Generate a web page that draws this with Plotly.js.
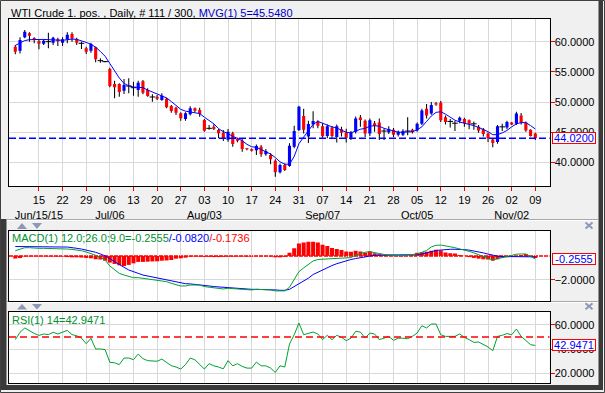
<!DOCTYPE html>
<html><head><meta charset="utf-8">
<script src="https://cdn.plot.ly/plotly-3.0.1.min.js"></script>
<style>html,body{margin:0;padding:0;background:#f0f0f0;overflow:hidden}#chart{width:605px;height:393px}</style>
</head><body><div id="chart"></div>
<script>
const dates = [
"2015-06-08","2015-06-09","2015-06-10","2015-06-11","2015-06-12",
"2015-06-15","2015-06-16","2015-06-17","2015-06-18","2015-06-19",
"2015-06-22","2015-06-23","2015-06-24","2015-06-25","2015-06-26",
"2015-06-29","2015-06-30","2015-07-01","2015-07-02","2015-07-03",
"2015-07-06","2015-07-07","2015-07-08","2015-07-09","2015-07-10",
"2015-07-13","2015-07-14","2015-07-15","2015-07-16","2015-07-17",
"2015-07-20","2015-07-21","2015-07-22","2015-07-23","2015-07-24",
"2015-07-27","2015-07-28","2015-07-29","2015-07-30","2015-07-31",
"2015-08-03","2015-08-04","2015-08-05","2015-08-06","2015-08-07",
"2015-08-10","2015-08-11","2015-08-12","2015-08-13","2015-08-14",
"2015-08-17","2015-08-18","2015-08-19","2015-08-20","2015-08-21",
"2015-08-24","2015-08-25","2015-08-26","2015-08-27","2015-08-28",
"2015-08-31","2015-09-01","2015-09-02","2015-09-03","2015-09-04",
"2015-09-07","2015-09-08","2015-09-09","2015-09-10","2015-09-11",
"2015-09-14","2015-09-15","2015-09-16","2015-09-17","2015-09-18",
"2015-09-21","2015-09-22","2015-09-23","2015-09-24","2015-09-25",
"2015-09-28","2015-09-29","2015-09-30","2015-10-01","2015-10-02",
"2015-10-05","2015-10-06","2015-10-07","2015-10-08","2015-10-09",
"2015-10-12","2015-10-13","2015-10-14","2015-10-15","2015-10-16",
"2015-10-19","2015-10-20","2015-10-21","2015-10-22","2015-10-23",
"2015-10-26","2015-10-27","2015-10-28","2015-10-29","2015-10-30",
"2015-11-02","2015-11-03","2015-11-04","2015-11-05","2015-11-06",
"2015-11-09"];

const open = [
59.19,58.53,60.74,61.40,60.63, 60.08,59.69,60.02,59.86,60.41, 59.86,60.41,61.29,60.41,59.75,
58.92,58.53,59.08,56.87,56.71, 55.49,53.00,53.00,51.90,52.67, 52.39,52.01,53.44,52.01,50.85,
50.90,50.35,50.57,49.35,49.08, 48.14,47.20,48.00,48.97,48.69, 47.03,45.65,45.93,45.37,44.93,
43.77,44.82,43.88,43.60,42.33, 42.17,42.00,42.61,41.34,41.23, 40.29,38.35,39.57,39.40,42.61,
45.37,47.70,44.30,46.30,46.80, 46.00,44.40,45.80,44.20,45.50, 44.90,44.10,45.10,47.45,46.90,
44.80,46.50,46.60,45.20,45.00, 45.40,44.60,44.60,45.20,45.40, 45.30,46.40,48.90,48.10,49.80,
49.90,47.50,46.80,46.50,46.90, 47.20,47.00,46.40,45.90,45.50, 44.80,43.80,43.40,45.90,45.80,
46.60,46.40,47.80,46.60,45.40, 44.80];
const high = [
59.47,60.74,61.96,61.57,60.74, 60.30,60.41,61.51,60.85,60.69, 60.74,61.57,61.57,60.69,60.02,
59.19,59.86,59.19,57.26,56.82, 55.71,53.55,53.11,53.83,53.94, 53.39,53.55,53.66,52.28,51.29,
51.18,51.45,50.74,49.52,49.24, 48.30,48.30,49.30,49.10,49.08, 47.20,46.20,46.31,45.54,45.37,
45.54,45.10,44.10,43.99,42.40, 42.30,42.99,42.88,42.22,41.50, 40.51,39.84,39.84,43.16,46.09,
49.41,48.90,46.90,48.50,47.00, 46.50,46.30,46.00,46.30,45.90, 45.60,45.20,47.60,47.85,47.10,
47.30,46.85,47.30,45.60,46.00, 45.70,45.30,45.50,47.50,45.60, 46.60,48.90,49.70,50.00,50.00,
50.20,47.80,47.20,46.90,47.60, 47.40,47.10,46.80,46.20,45.70, 44.95,44.00,46.20,46.40,46.90,
46.70,48.40,48.20,46.80,45.50, 44.90];
const low = [
57.92,58.08,60.57,60.02,59.74, 58.75,59.47,58.92,59.47,59.30, 59.30,59.74,60.02,59.47,58.81,
57.98,58.20,56.60,56.54,56.60, 52.45,50.62,50.90,51.34,51.45, 51.07,50.90,51.29,50.90,50.07,
50.35,50.24,48.97,48.25,47.86, 46.92,46.90,47.80,48.30,47.58, 45.10,45.40,45.37,44.00,43.55,
43.44,42.61,43.33,41.78,42.00, 41.80,41.23,40.95,41.12,39.68, 37.63,38.18,38.57,39.29,42.33,
45.21,44.80,43.20,45.65,45.65, 44.10,44.00,44.10,43.30,44.30, 43.30,43.70,44.80,45.90,44.20,
44.40,45.10,43.70,43.70,44.70, 44.20,44.30,44.40,44.50,44.80, 45.10,46.20,47.30,47.90,49.40,
46.70,46.30,45.80,45.20,46.50, 45.90,45.50,45.40,44.90,44.30, 43.40,42.50,43.10,45.20,45.50,
46.20,46.20,46.30,45.10,44.30, 43.70];
const close = [
58.36,60.30,61.68,61.02,60.30, 59.69,60.19,60.02,60.69,60.08, 60.41,61.18,60.52,59.86,59.75,
58.36,59.63,57.09,56.87,56.71, 52.67,52.45,51.67,52.84,52.67, 52.39,53.22,51.56,51.01,50.85,
50.57,51.07,49.13,48.52,48.25, 47.31,48.14,48.97,48.55,48.03, 45.26,45.65,45.54,44.82,43.88,
45.10,43.05,43.60,42.22,42.17, 41.95,42.72,41.34,41.89,40.51, 38.35,39.57,38.74,42.78,45.21,
49.24,45.40,46.35,46.85,46.10, 44.35,46.00,44.40,46.00,44.90, 44.10,44.90,47.30,47.05,44.80,
47.00,46.10,44.70,45.20,45.50, 44.60,45.10,45.20,45.20,45.00, 46.40,48.60,47.80,49.50,49.60,
47.00,46.70,46.80,46.50,47.40, 46.50,46.40,46.40,45.30,44.70, 44.00,43.20,46.00,45.90,46.70,
46.30,48.10,46.60,45.30,44.40, 44.02];
const mvg5 = [
59.4,59.8,60.2,60.35,60.4, 60.4,60.4,60.35,60.3,60.2, 60.25,60.35,60.45,60.4,60.2,
59.9,59.6,59.1,58.4,57.6, 56.4,55.2,54.0,53.1,52.7, 52.5,52.5,52.4,52.0,51.7,
51.3,51.0,50.7,50.1,49.4, 48.8,48.5,48.4,48.3,48.1, 47.5,46.9,46.4,45.6,45.1,
44.8,44.3,44.0,43.6,43.0, 42.6,42.5,42.1,41.8,41.4, 40.8,40.1,39.7,39.7,41.0,
43.1,44.2,45.2,46.3,46.8, 46.5,46.1,45.9,45.7,45.3, 45.0,44.9,45.2,45.5,45.65,
46.0,46.1,46.0,45.65,45.4, 45.2,45.0,45.0,45.0,45.1, 45.4,45.9,46.8,47.7,48.3,
48.4,48.0,47.5,47.0,46.7, 46.5,46.4,46.1,45.8,45.5, 45.1,44.6,44.6,44.9,45.3,
45.9,46.4,46.6,46.6,46.1, 45.548];
const macd = [
0.43,0.54,0.68,0.68,0.63, 0.63,0.63,0.63,0.63,0.63, 0.60,0.57,0.54,0.49,0.43,
0.32,0.21,0.05,-0.12,-0.34, -0.84,-1.17,-1.45,-1.59,-1.72, -1.81,-1.81,-1.86,-1.92,-1.95,
-2.0,-2.05,-2.14,-2.28,-2.42, -2.5,-2.5,-2.42,-2.42,-2.42, -2.55,-2.61,-2.69,-2.75,-2.75,
-2.69,-2.75,-2.75,-2.78,-2.83, -2.83,-2.78,-2.78,-2.78,-2.83, -2.91,-2.91,-2.91,-2.61,-1.95,
-1.31,-1.0,-0.7,-0.42,-0.3, -0.28,-0.25,-0.22,-0.2,-0.18, -0.17,-0.14,0.05,0.2,0.3,
0.35,0.3,0.2,0.12,0.07, 0.05,0.02,0.02,0.05,0.1, 0.16,0.3,0.45,0.75,0.88,
0.9,0.85,0.76,0.68,0.6, 0.5,0.38,0.25,0.12,-0.05, -0.2,-0.34,-0.22,-0.14,-0.05,
0.05,0.14,0.16,0.16,-0.05, -0.2555];
const signal = [
0.78,0.77,0.77,0.76,0.76, 0.76,0.75,0.75,0.75,0.75, 0.74,0.74,0.71,0.63,0.57,
0.49,0.40,0.30,0.16,0.0, -0.23,-0.48,-0.76,-0.95,-1.17, -1.34,-1.45,-1.59,-1.67,-1.75,
-1.84,-1.92,-1.97,-2.06,-2.14, -2.22,-2.31,-2.33,-2.36,-2.42, -2.45,-2.5,-2.55,-2.58,-2.64,
-2.66,-2.69,-2.69,-2.72,-2.75, -2.78,-2.78,-2.78,-2.8,-2.8, -2.83,-2.86,-2.86,-2.78,-2.55,
-2.33,-2.1,-1.85,-1.55,-1.35, -1.15,-1.0,-0.8,-0.65,-0.52, -0.4,-0.3,-0.22,-0.14,-0.05,
0.02,0.05,0.07,0.07,0.07, 0.07,0.07,0.07,0.07,0.07, 0.1,0.15,0.22,0.35,0.45,
0.5,0.55,0.55,0.55,0.55, 0.52,0.48,0.42,0.35,0.25, 0.15,0.05,-0.02,-0.05,-0.06,
-0.06,-0.05,-0.05,-0.05,-0.06, -0.082];
const hist = [
-0.22,-0.18,-0.05,-0.04,-0.04, -0.04,-0.04,-0.05,-0.05,-0.06, -0.06,-0.1,-0.12,-0.12,-0.14,
-0.17,-0.2,-0.28,-0.3,-0.4, -0.56,-0.67,-0.78,-0.84,-0.75, -0.62,-0.5,-0.5,-0.48,-0.46,
-0.45,-0.4,-0.38,-0.34,-0.23, -0.2,-0.15,-0.06,-0.05,-0.06, -0.08,-0.08,-0.1,-0.1,-0.08,
-0.06,-0.06,-0.05,-0.05,-0.06, -0.05,-0.03,-0.04,-0.03,-0.05, -0.12,-0.12,-0.08,0.27,0.63,
1.04,1.12,1.18,1.18,1.12, 0.92,0.82,0.65,0.57,0.49, 0.36,0.34,0.43,0.36,0.27,
0.38,0.21,0.14,0.06,0.04, 0.02,-0.02,-0.02,0.02,0.05, 0.27,0.30,0.35,0.43,0.52,
0.45,0.28,0.21,0.2,0.08, 0.02,-0.1,-0.17,-0.23,-0.28, -0.3,-0.4,-0.28,-0.17,-0.12,
-0.06,-0.03,0.08,0.15,-0.04, -0.1736];
const rsi = [
47.8,53.9,57.5,55.0,53.0, 51.3,52.5,52.0,53.9,52.5, 53.9,55.5,52.0,51.0,49.0,
44.4,48.9,40.0,40.0,39.5, 28.9,28.5,27.0,32.5,32.5, 31.1,35.8,32.0,30.3,30.3,
29.8,31.6,28.5,26.1,25.0, 23.3,27.0,32.5,31.0,27.0, 23.3,27.8,26.0,25.0,23.5,
30.3,26.0,27.8,25.5,24.1, 24.1,29.1,26.0,26.0,24.1, 20.5,26.0,25.0,44.1,51.9,
61.6,51.9,53.3,54.1,52.5, 47.8,51.4,47.8,51.4,49.7, 46.9,49.0,54.7,54.1,49.1,
53.3,52.5,47.8,49.0,50.5, 47.2,49.0,49.0,48.6,50.5, 53.3,59.4,57.5,60.8,60.8,
51.9,50.5,50.5,50.5,52.5, 49.7,47.8,45.5,45.8,43.6, 41.7,38.6,50.5,51.4,52.8,
51.9,56.6,50.5,46.9,43.6, 42.9471];

const tickDays = ["15","22","29","06","13","20","27","03","10","17","24","31","07","14","21","28","05","12","19","26","02","09"];
const monthLabels = {"06-15":"Jun/15/15","07-06":"Jul/06","08-03":"Aug/03","09-07":"Sep/07","10-05":"Oct/05","11-02":"Nov/02"};

const W = 605, H = 393;
const px = v => v / W, py = v => 1 - v / H;
const FONT = "Liberation Sans, Arial, sans-serif";

const tickVals = [], tickText = [];
for (let k = 0; k < tickDays.length; k++) {
  const d = dates[5 + 5 * k];
  tickVals.push(d);
  const ml = monthLabels[d.slice(5)];
  tickText.push(tickDays[k] + "<br>" + (ml ? ml : " "));
}

const n = dates.length;
const bodyBase = [], bodyLen = [], bodyCol = [], dojiX = [], dojiY = [];
for (let i = 0; i < n; i++) {
  bodyBase.push(Math.min(open[i], close[i]));
  bodyLen.push(Math.abs(close[i] - open[i]));
  bodyCol.push(close[i] > open[i] ? "#0000ff" : "#ff0000");
  if (open[i] === close[i]) { dojiX.push(dates[i]); dojiY.push(close[i]); }
}
const wickLen = high.map((h, i) => h - low[i]);

const traces = [
  {type: "bar", x: dates, y: wickLen, base: low, width: 0.22, marker: {color: "#000000", line: {width: 0}}, xaxis: "x", yaxis: "y", hoverinfo: "skip"},
  {type: "bar", x: dates, y: bodyLen, base: bodyBase, width: 0.66, marker: {color: bodyCol, line: {width: 0}}, xaxis: "x", yaxis: "y", hoverinfo: "skip"},
  {type: "scatter", mode: "markers", x: dojiX, y: dojiY, marker: {symbol: "line-ew", size: 4, line: {color: "#000000", width: 1}}, xaxis: "x", yaxis: "y", hoverinfo: "skip"},
  {type: "scatter", mode: "lines", x: dates, y: mvg5, line: {color: "#0000ff", width: 1}, xaxis: "x", yaxis: "y", hoverinfo: "skip"},
  {type: "bar", x: dates, y: hist, width: 0.85, marker: {color: "#ff0000", line: {width: 0}}, xaxis: "x2", yaxis: "y2", hoverinfo: "skip"},
  {type: "scatter", mode: "lines", x: dates, y: signal, line: {color: "#0000ff", width: 1}, xaxis: "x2", yaxis: "y2", hoverinfo: "skip"},
  {type: "scatter", mode: "lines", x: dates, y: macd, line: {color: "#00a030", width: 1}, xaxis: "x2", yaxis: "y2", hoverinfo: "skip"},
  {type: "scatter", mode: "lines", x: dates, y: rsi, line: {color: "#00a030", width: 1}, xaxis: "x3", yaxis: "y3", hoverinfo: "skip"}
];

const xRange = [-1.33, n - 1 + 3.0];
const xDom = [px(9), px(549.5)];
const gridC = "#d8d8d8";
const baseX = {type: "category", categoryorder: "array", categoryarray: dates, range: xRange, domain: xDom,
  showgrid: true, gridcolor: gridC, gridwidth: 1, showline: true, linecolor: "#000000", linewidth: 1, mirror: true,
  zeroline: false, tickvals: tickVals, ticktext: tickText, tickangle: 0, fixedrange: true};
const baseY = {side: "right", showgrid: true, gridcolor: gridC, gridwidth: 1, showline: true, linecolor: "#000000", linewidth: 1,
  mirror: true, zeroline: false, ticks: "outside", ticklen: 4, tickwidth: 1, tickcolor: "#ff0000", tickformat: ".4f",
  ticklabelstandoff: -2, tickfont: {family: FONT, size: 11, color: "#000000"}, fixedrange: true};

const last = n - 1;
const valueBox = (yref, v, txt) => ({xref: "paper", x: px(552), xanchor: "left", yref: yref, y: v, yanchor: "middle",
  text: txt, showarrow: false, font: {family: FONT, size: 11, color: "#0000ff"}, bgcolor: "#ffffff",
  bordercolor: "#ff0000", borderwidth: 1, borderpad: 0, width: 42, height: 10});

const tri = (x0, x1, yT, yB, up) => up
  ? `M${px(x0)},${py(yB)} L${px(x1)},${py(yB)} L${px((x0 + x1) / 2)},${py(yT)} Z`
  : `M${px(x0)},${py(yT)} L${px(x1)},${py(yT)} L${px((x0 + x1) / 2)},${py(yB)} Z`;
const deco = [];
[[223, 229], [304, 309.5]].forEach(([t, b]) => {
  deco.push({type: "path", xref: "paper", yref: "paper", path: tri(17, 27, t, b, true), fillcolor: "#8c98b6", line: {width: 0}});
  deco.push({type: "path", xref: "paper", yref: "paper", path: tri(32, 42, t, b, false), fillcolor: "#8c98b6", line: {width: 0}});
  const xc = 589, yc = (t + b) / 2 - 0.5;
  deco.push({type: "line", xref: "paper", yref: "paper", x0: px(xc - 3.5), x1: px(xc + 3.5), y0: py(yc - 3), y1: py(yc + 3), line: {color: "#8c98b6", width: 2}});
  deco.push({type: "line", xref: "paper", yref: "paper", x0: px(xc - 3.5), x1: px(xc + 3.5), y0: py(yc + 3), y1: py(yc - 3), line: {color: "#8c98b6", width: 2}});
});
// panel separators (light line with gray edge)
[219.5, 301.5].forEach(yv => {
  deco.push({type: "line", xref: "paper", yref: "paper", x0: px(7), x1: px(598), y0: py(yv), y1: py(yv), line: {color: "#a8a8a8", width: 1}, layer: "below"});
  deco.push({type: "line", xref: "paper", yref: "paper", x0: px(7), x1: px(598), y0: py(yv + 1), y1: py(yv + 1), line: {color: "#ffffff", width: 1}, layer: "below"});
});

const layout = {
  width: W, height: H, margin: {l: 0, r: 0, t: 0, b: 0}, paper_bgcolor: "#f0f0f0", plot_bgcolor: "#ffffff",
  showlegend: false, barmode: "overlay", hovermode: false, font: {family: FONT, size: 11, color: "#000000"},
  xaxis: Object.assign({}, baseX, {anchor: "y", ticks: "outside", ticklen: 4, tickcolor: "#ff0000", tickwidth: 1,
    tickfont: {family: FONT, size: 11, color: "#000000"}, rangeslider: {visible: false}}),
  xaxis2: Object.assign({}, baseX, {anchor: "y2", matches: "x", showticklabels: false, ticks: ""}),
  xaxis3: Object.assign({}, baseX, {anchor: "y3", matches: "x", showticklabels: false, ticks: ""}),
  yaxis: Object.assign({}, baseY, {domain: [py(186), py(19)], range: [36.09, 63.78], tickvals: [40, 45, 50, 55, 60]}),
  yaxis2: Object.assign({}, baseY, {domain: [py(301), py(231)], range: [-3.75, 2.07], tickvals: [-2]}),
  yaxis3: Object.assign({}, baseY, {domain: [py(383), py(312)], range: [11.7, 70.8], tickvals: [20, 40, 60]}),
  shapes: [
    {type: "line", xref: "x domain", x0: 0, x1: 1, yref: "y", y0: close[last], y1: close[last], line: {color: "#0000ff", width: 1.5, dash: "7px,3px"}},
    {type: "line", xref: "x2 domain", x0: 0, x1: 1, yref: "y2", y0: 0, y1: 0, line: {color: "#ff0000", width: 1.5, dash: "4px,1px"}, layer: "below"},
    {type: "line", xref: "x3 domain", x0: 0, x1: 1, yref: "y3", y0: 50, y1: 50, line: {color: "#ff0000", width: 1.5, dash: "7px,4px"}},
    {type: "rect", xref: "paper", yref: "paper", x0: px(1), x1: px(6.5), y0: py(390), y1: py(219), fillcolor: "#3a3a3a", line: {width: 0}, layer: "below"},
    {type: "rect", xref: "paper", yref: "paper", x0: px(1), x1: px(603), y0: py(390), y1: py(385), fillcolor: "#3a3a3a", line: {width: 0}, layer: "below"},
    {type: "rect", xref: "paper", yref: "paper", x0: px(598.5), x1: px(603), y0: py(390), y1: py(1), fillcolor: "#3a3a3a", line: {width: 0}, layer: "below"},
    {type: "rect", xref: "paper", yref: "paper", x0: px(0.5), x1: px(604.5), y0: py(392.5), y1: py(0.5), line: {color: "#404040", width: 1}}
  ].concat(deco),
  annotations: [
    {xref: "paper", yref: "paper", x: px(9), y: py(12.5), xanchor: "left", yanchor: "middle", showarrow: false,
     font: {family: FONT, size: 11, color: "#000000"},
     text: "WTI Crude 1. pos. , Daily, # 111 / 300, <span style='color:#0000cc'>MVG(1) 5=" + mvg5[last].toFixed(4) + "</span>"},
    {xref: "paper", yref: "paper", x: px(10), y: py(238.5), xanchor: "left", yanchor: "middle", showarrow: false,
     font: {family: FONT, size: 11, color: "#009030"},
     text: "MACD(1) 12.0;26.0;9.0=" + macd[last].toFixed(4) + "<span style='color:#0000ff'>/" + signal[last].toFixed(4) + "</span><span style='color:#ff0000'>/" + hist[last].toFixed(4) + "</span>"},
    {xref: "paper", yref: "paper", x: px(10), y: py(319.5), xanchor: "left", yanchor: "middle", showarrow: false,
     font: {family: FONT, size: 11, color: "#009030"}, text: "RSI(1) 14=" + rsi[last].toFixed(4)},
    valueBox("y", close[last], close[last].toFixed(4)),
    valueBox("y2", macd[last], macd[last].toFixed(4)),
    valueBox("y3", rsi[last], rsi[last].toFixed(4))
  ]
};

Plotly.newPlot("chart", traces, layout, {displayModeBar: false, staticPlot: true});
</script></body></html>
